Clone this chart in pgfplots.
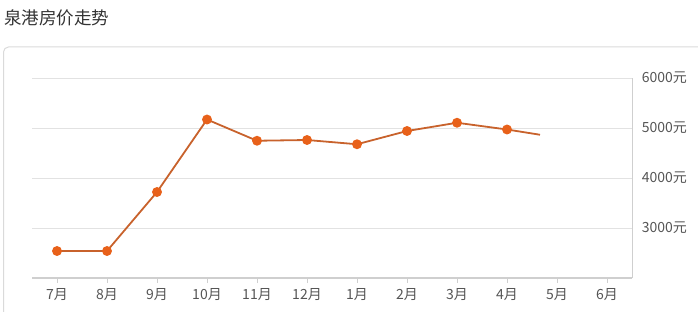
\documentclass[border=0pt]{standalone}
\usepackage{pgfplots}
\pgfplotsset{compat=1.18}
\usepackage{fontspec}
\setmainfont{Noto Sans CJK SC}
\definecolor{linec}{HTML}{C8622C}
\definecolor{markc}{HTML}{E8611A}
\definecolor{gridc}{HTML}{E2E2E2}
\definecolor{axisc}{HTML}{CFCFCF}
\definecolor{labc}{HTML}{555555}
\definecolor{cardc}{HTML}{DADADA}
\begin{document}
\begin{tikzpicture}[x=1pt,y=1pt]
\useasboundingbox (0,0) rectangle (698,311);
\node[anchor=west,inner sep=0pt,text=black!80,font=\fontsize{17.5}{20}\selectfont] at (4,293) {泉港房价走势};
\draw[cardc,line width=1pt] (3.5,-5) -- (3.5,259) arc[start angle=180,end angle=90,radius=5] -- (700,264);
\begin{axis}[
  at={(32pt,33pt)}, anchor=south west,
  scale only axis, width=600pt, height=200pt,
  xmin=-0.5, xmax=11.5, ymin=2000, ymax=6000,
  axis x line*=bottom, axis y line*=right,
  x axis line style={-,draw=axisc,line width=1.2pt},
  y axis line style={-,draw=axisc,line width=0.8pt},
  xtick={0,...,11},
  xticklabels={7月,8月,9月,10月,11月,12月,1月,2月,3月,4月,5月,6月},
  ytick={3000,4000,5000,6000},
  yticklabels={3000元,4000元,5000元,6000元},
  ymajorgrids, grid style={gridc,line width=0.8pt},
  tick align=outside,
  xtick style={draw=axisc,line width=0.6pt},
  major x tick style={/pgfplots/major tick length=5pt},
  ytick style={draw=none},
  ticklabel style={text=labc,font=\fontsize{14}{16}\selectfont},
  yticklabel style={xshift=2pt},
  xticklabel style={yshift=-3pt},
  /pgf/number format/assume math mode=true,
  clip=false,
]
\addplot[color=linec, line width=1.8pt, mark=*, mark size=4pt,
  mark options={fill=markc,draw=markc}, mark indices={1,2,3,4,5,6,7,8,9,10}]
  coordinates {(0,2540) (1,2540) (2,3720) (3,5170) (4,4745) (5,4760) (6,4675) (7,4940) (8,5105) (9,4970) (9.66,4865)};
\end{axis}
\end{tikzpicture}
\end{document}
